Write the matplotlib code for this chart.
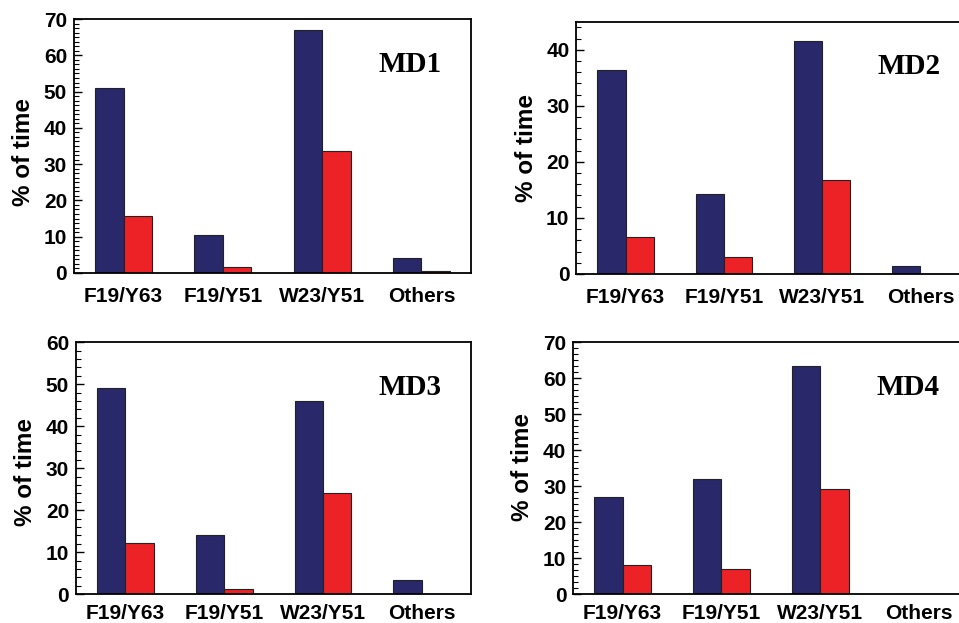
import matplotlib
matplotlib.use("Agg")
import matplotlib.pyplot as plt
from matplotlib.ticker import MultipleLocator, AutoMinorLocator
import numpy as np

# 数据
categories = ["F19/Y63", "F19/Y51", "W23/Y51", "Others"]
panel_names = ["MD1", "MD2", "MD3", "MD4"]

md1_blue = [51.1, 10.6, 66.9, 4.2]
md1_red = [15.7, 1.75, 33.6, 0.65]
md2_blue = [36.3, 14.3, 41.5, 1.4]
md2_red = [6.65, 3.1, 16.85, 0.0]
md3_blue = [49.0, 14.0, 46.1, 3.5]
md3_red = [12.3, 1.3, 24.2, 0.0]
md4_blue = [27.0, 31.9, 63.3, 0.0]
md4_red = [8.15, 7.0, 29.3, 0.0]

y_max = [70, 45, 60, 70]
minor_div = [8, 5, 5, 6]

blue_vals = [md1_blue, md2_blue, md3_blue, md4_blue]
red_vals = [md1_red, md2_red, md3_red, md4_red]

BLUE = "#28286a"
RED = "#ec2227"

fig = plt.figure(figsize=(9.59, 6.23), dpi=100)

# 各子图位置 (figure fraction); 右侧两个子图超出画布右边界
rects = [
    [0.0772, 0.5618, 0.414, 0.4077],
    [0.601, 0.5602, 0.41, 0.405],
    [0.0793, 0.0461, 0.412, 0.4045],
    [0.5978, 0.0461, 0.412, 0.4045],
]
label_y = [0.478, 0.501, 0.486, 0.504]
xlabel_pad = [10, 10, 7, 7]

x = np.arange(len(categories))
w = 0.287

for i, rect in enumerate(rects):
    ax = fig.add_axes(rect)
    ax.bar(x - w / 2, blue_vals[i], width=w, color=BLUE,
           edgecolor="#222222", linewidth=0.8)
    ax.bar(x + w / 2, red_vals[i], width=w, color=RED,
           edgecolor="#222222", linewidth=0.8)

    ax.set_xlim(-0.5, 3.5)
    ax.set_ylim(0, y_max[i])
    ax.yaxis.set_major_locator(MultipleLocator(10))
    ax.yaxis.set_minor_locator(AutoMinorLocator(minor_div[i]))

    ax.set_xticks(x)
    ax.set_xticklabels(categories, fontsize=15, fontweight="bold",
                       family="Liberation Sans")
    for lab in ax.get_yticklabels():
        lab.set_fontsize(15)
        lab.set_fontweight("bold")
        lab.set_family("Liberation Sans")

    ax.tick_params(axis="x", length=0, pad=xlabel_pad[i])
    ax.tick_params(axis="y", which="major", direction="in", length=6,
                   width=1.0, pad=5)
    ax.tick_params(axis="y", which="minor", direction="in", length=3.5,
                   width=0.8)
    ax.tick_params(axis="y", right=False)

    for sp in ax.spines.values():
        sp.set_linewidth(1.3)
        sp.set_color("black")

    ax.set_ylabel("% of time", fontsize=17.5, fontweight="bold",
                  family="Liberation Sans", va="center")
    ax.yaxis.set_label_coords(-0.128, label_y[i])

    ax.text(0.846, 0.822, panel_names[i], transform=ax.transAxes,
            ha="center", va="center", fontsize=21, fontweight="bold",
            family="Liberation Serif")

fig.savefig("out.png", dpi=100)
plt.close(fig)
